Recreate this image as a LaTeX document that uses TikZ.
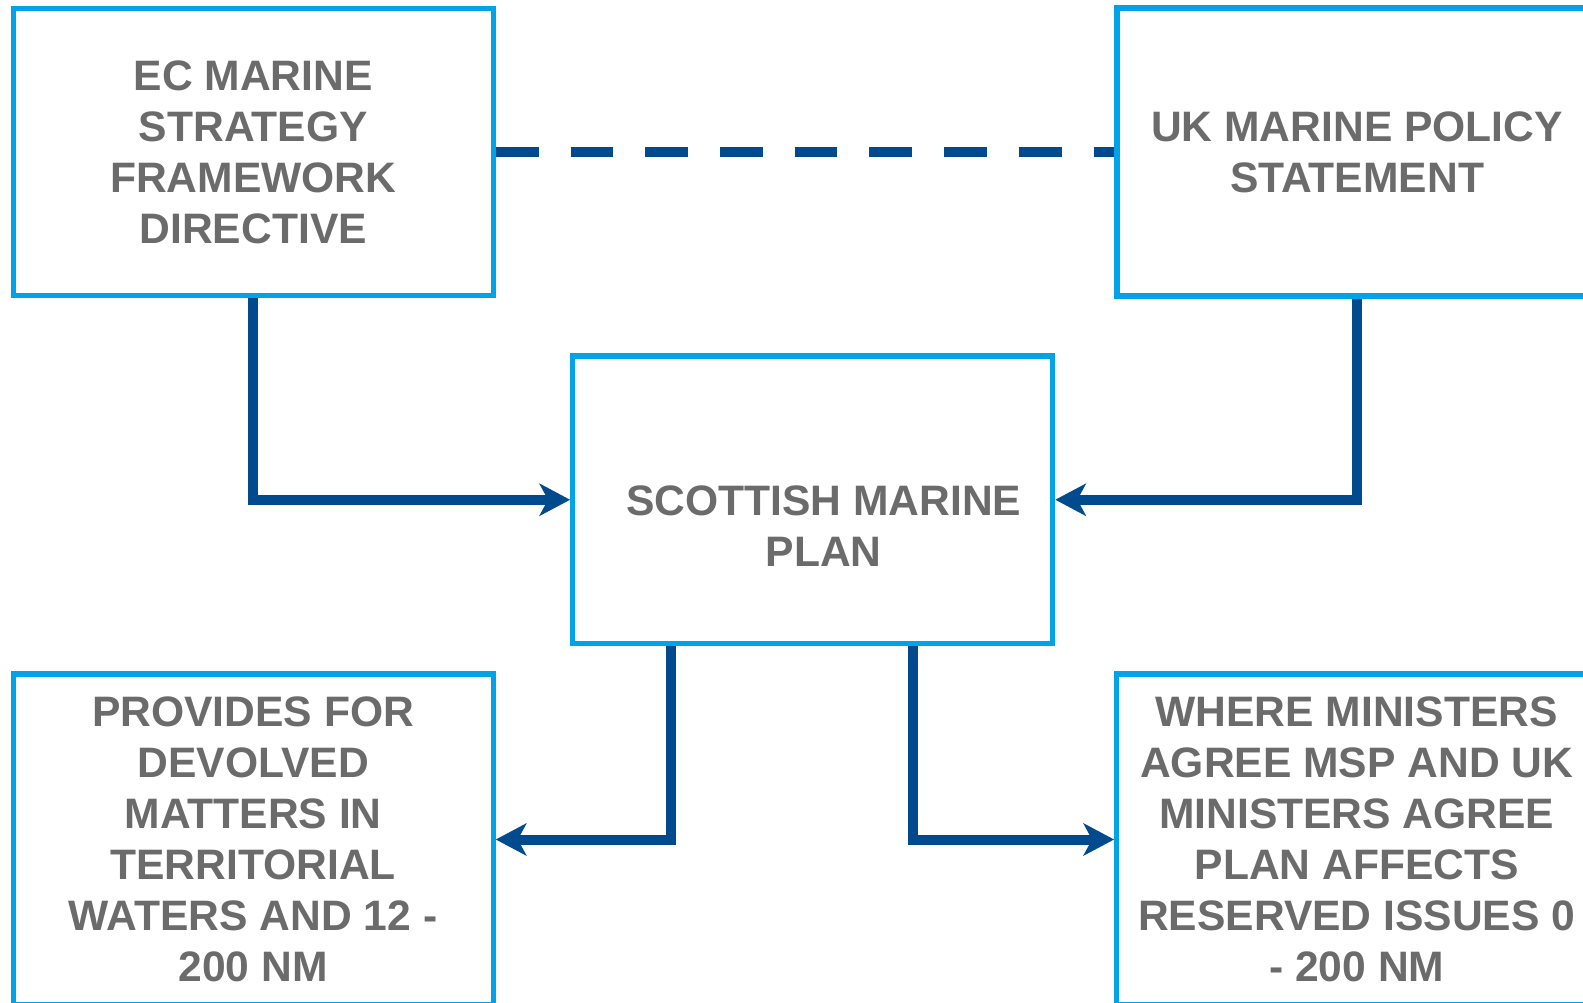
\documentclass[tikz,border=0pt]{standalone}
\usepackage{fontspec}
\setmainfont{Liberation Sans}
\usetikzlibrary{arrows.meta}
\definecolor{boxc}{RGB}{0,163,232}
\definecolor{linec}{RGB}{0,74,141}
\definecolor{txtc}{RGB}{107,107,107}
\begin{document}
\begin{tikzpicture}[x=1pt,y=-1pt,
  txt/.style={text=txtc,align=center,inner sep=0pt,font=\fontsize{42.6}{51}\selectfont\bfseries},
  box/.style={txt,draw=boxc,line width=5.3pt,rectangle,minimum width=480pt},
  conn/.style={draw=linec,line width=10pt,-{Stealth[length=31pt,width=33pt,inset=9pt,line width=0pt]}},
  dashconn/.style={draw=linec,line width=10pt,dash pattern=on 42.7pt off 32pt}]
\useasboundingbox (0,0) rectangle (1583,1003);
\clip (0,0) rectangle (1583,1003);
\node[box,minimum height=287pt] (ec) at (253.25,152) {EC MARINE\\STRATEGY\\FRAMEWORK\\DIRECTIVE};
\node[box,minimum height=288pt] (uk) at (1357,152) {UK MARINE POLICY\\STATEMENT};
\node[box,minimum height=287.5pt] (ctr) at (812.7,499.75) {};
\node[txt] (ctrtext) at (823.7,526) {SCOTTISH MARINE\\PLAN};
\node[box,minimum height=331pt] (bl) at (253.2,839.5) {PROVIDES FOR\\DEVOLVED\\MATTERS IN\\TERRITORIAL\\WATERS AND 12 -\\200 NM};
\node[box,minimum height=331pt] (br) at (1356.7,839.5) {WHERE MINISTERS\\AGREE MSP AND UK\\MINISTERS AGREE\\PLAN AFFECTS\\RESERVED ISSUES 0\\- 200 NM};
\draw[dashconn] (ec.east) -- (uk.west);
\draw[conn] (ec.south) |- (ctr.west);
\draw[conn] (uk.south) |- (ctr.east);
\draw[conn] ([xshift=-141.9pt]ctr.south) |- (bl.east);
\draw[conn] ([xshift=100.3pt]ctr.south) |- (br.west);
\end{tikzpicture}
\end{document}
